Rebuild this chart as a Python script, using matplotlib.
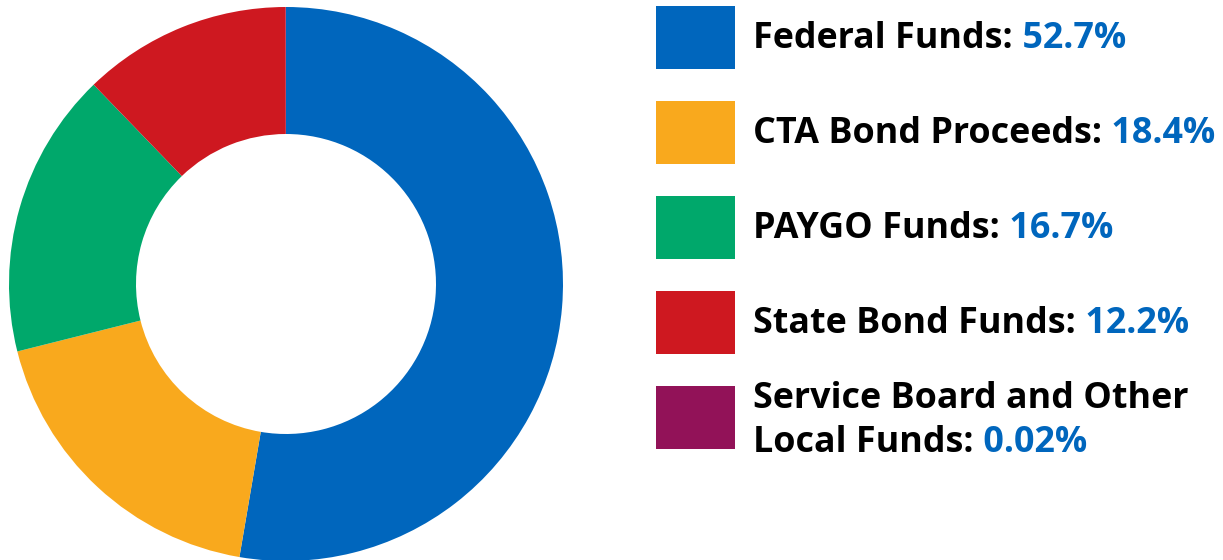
import matplotlib.pyplot as plt
from matplotlib.patches import Rectangle

# funding sources, percent of total
labels = ['Federal Funds:', 'CTA Bond Proceeds:', 'PAYGO Funds:', 'State Bond Funds:',
          'Service Board and Other\nLocal Funds:']
shares = [52.7, 18.4, 16.7, 12.2, 0.02]
pct_text = ['52.7%', '18.4%', '16.7%', '12.2%', '0.02%']
colors = ['#0066BD', '#F9A91D', '#00A86B', '#CE1820', '#921258']

plt.rcParams['font.family'] = ['Open Sans', 'DejaVu Sans']

fig = plt.figure(figsize=(12.23, 5.6), dpi=100)
ax = fig.add_axes([0, 0, 1, 1])

# donut, clockwise from 12 o'clock
ax.pie(shares, colors=colors, startangle=90, counterclock=False,
       center=(286, 276), radius=277,
       wedgeprops=dict(width=127, linewidth=0))

# legend drawn by hand in pixel units
ax.set_xlim(0, 1223)
ax.set_ylim(0, 560)
ax.set_aspect('equal')
ax.axis('off')

box_y = [491, 396, 301, 206, 111]
base_y = [512, 417, 322, 227, 108]
fs = 25.8
for i in range(len(labels)):
    ax.add_patch(Rectangle((656, box_y[i]), 79, 63, facecolor=colors[i], edgecolor='none'))
    lines = labels[i].split('\n')
    if len(lines) > 1:
        ax.text(753, base_y[i] + 44, lines[0], fontsize=fs, fontweight='bold',
                color='black', va='baseline')
    t = ax.text(753, base_y[i], lines[-1], fontsize=fs, fontweight='bold',
                color='black', va='baseline')
    ax.annotate(' ' + pct_text[i], xy=(1, 0), xycoords=t, va='bottom', ha='left',
                fontsize=fs, fontweight='bold', color='#0066BD')

plt.savefig('out.png', dpi=100)
